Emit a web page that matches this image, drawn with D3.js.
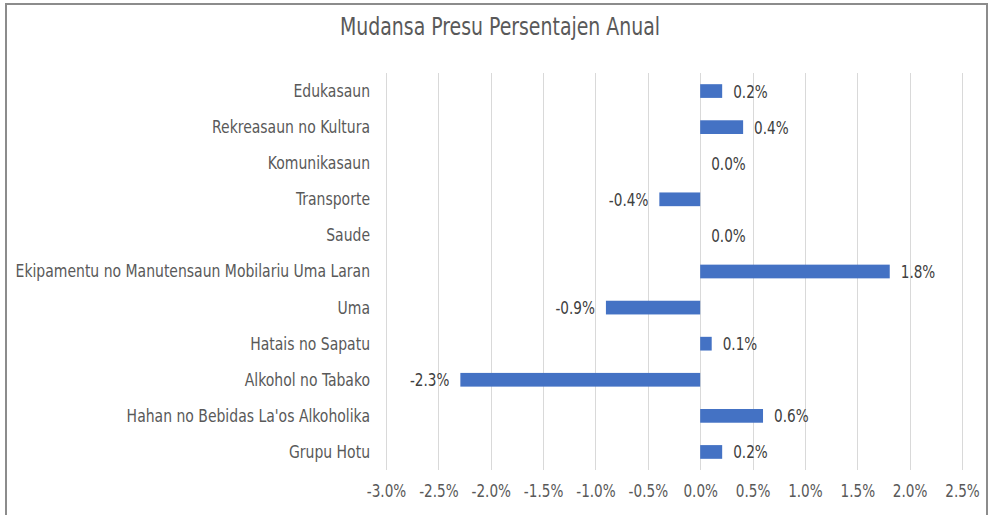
<!DOCTYPE html>
<head>
    <meta charset="utf-8">
    <script src="https://cdn.jsdelivr.net/npm/d3@7"></script>
    <style type="text/css">
        body {
            margin: 0;
            background: #fff;
        }
        text {
            font-family: "Liberation Sans Narrow", "DejaVu Sans Condensed", sans-serif;
        }
        .grid line {
            stroke: #d9d9d9;
            stroke-width: 1px;
        }
    </style>
</head>
<body>
    <div id="chart"></div>
</body>
</html>

<script type="text/javascript">
    // categories top to bottom, as in the picture
    var categories = [
        "Edukasaun",
        "Rekreasaun no Kultura",
        "Komunikasaun",
        "Transporte",
        "Saude",
        "Ekipamentu no Manutensaun Mobilariu Uma Laran",
        "Uma",
        "Hatais no Sapatu",
        "Alkohol no Tabako",
        "Hahan no Bebidas La'os Alkoholika",
        "Grupu Hotu"
    ];
    // annual percent change
    var values = [0.21, 0.41, 0.0, -0.39, 0.0, 1.81, -0.9, 0.11, -2.29, 0.6, 0.21];
    var ticks = [-3.0, -2.5, -2.0, -1.5, -1.0, -0.5, 0.0, 0.5, 1.0, 1.5, 2.0, 2.5];
    var title = "Mudansa Presu Persentajen Anual";

    var width = 993, height = 515;
    var squeeze = 0.84; // the original font is narrow, so squeeze the glyphs

    var fmt = function(d) { return d3.format(".1f")(d).replace("\u2212", "-") + "%"; };

    function narrow(sel) {
        sel.each(function() {
            var w = this.getComputedTextLength();
            d3.select(this)
                .attr("textLength", w * squeeze)
                .attr("lengthAdjust", "spacingAndGlyphs");
        });
    }

    var svg = d3.select("#chart").append("svg")
        .attr("width", width)
        .attr("height", height);

    // chart frame (bottom edge is cut off in the picture)
    svg.append("path")
        .attr("d", "M6,515 L6,4 L987,4 L987,515")
        .attr("fill", "none")
        .attr("stroke", "#8c8c8c")
        .attr("stroke-width", 2);

    svg.append("text")
        .attr("x", 500)
        .attr("y", 35)
        .attr("text-anchor", "middle")
        .attr("fill", "#595959")
        .style("font-size", "25px")
        .text(title)
        .call(narrow);

    var x = d3.scaleLinear()
        .domain([-3, 2.5])
        .range([386, 962]);

    var y = d3.scaleBand()
        .domain(categories)
        .range([73, 470])
        .paddingInner(0.62)
        .paddingOuter(0.31);

    // vertical gridlines
    svg.append("g")
        .attr("class", "grid")
        .selectAll("line")
        .data(ticks)
        .enter().append("line")
        .attr("x1", function(d) { return Math.round(x(d)) + 0.5; })
        .attr("x2", function(d) { return Math.round(x(d)) + 0.5; })
        .attr("y1", 73)
        .attr("y2", 470);

    // x axis labels
    var xAxis = svg.append("g")
        .attr("transform", "translate(0, 470)")
        .call(d3.axisBottom(x).tickValues(ticks).tickSize(0).tickPadding(14).tickFormat(fmt));
    xAxis.select(".domain").remove();
    xAxis.selectAll("text")
        .attr("fill", "#595959")
        .style("font-size", "18px")
        .style("font-family", "'Liberation Sans Narrow', 'DejaVu Sans Condensed', sans-serif")
        .call(narrow);

    // category labels
    var yAxis = svg.append("g")
        .attr("transform", "translate(386, 0)")
        .call(d3.axisLeft(y).tickSize(0).tickPadding(16));
    yAxis.select(".domain").remove();
    yAxis.selectAll("text")
        .attr("fill", "#595959")
        .style("font-size", "18.5px")
        .style("font-family", "'Liberation Sans Narrow', 'DejaVu Sans Condensed', sans-serif")
        .call(narrow);

    // bars
    svg.append("g")
        .selectAll("rect")
        .data(values)
        .enter().append("rect")
        .attr("x", function(d) { return x(Math.min(0, d)); })
        .attr("y", function(d, i) { return y(categories[i]); })
        .attr("width", function(d) { return Math.abs(x(d) - x(0)); })
        .attr("height", y.bandwidth())
        .attr("fill", "#4472c4");

    // data labels
    svg.append("g")
        .selectAll("text")
        .data(values)
        .enter().append("text")
        .attr("x", function(d) { return d < 0 ? x(d) - 11 : x(d) + 11; })
        .attr("y", function(d, i) { return y(categories[i]) + y.bandwidth() / 2; })
        .attr("dy", "0.36em")
        .attr("text-anchor", function(d) { return d < 0 ? "end" : "start"; })
        .attr("fill", "#404040")
        .style("font-size", "18px")
        .text(fmt)
        .call(narrow);
</script>
